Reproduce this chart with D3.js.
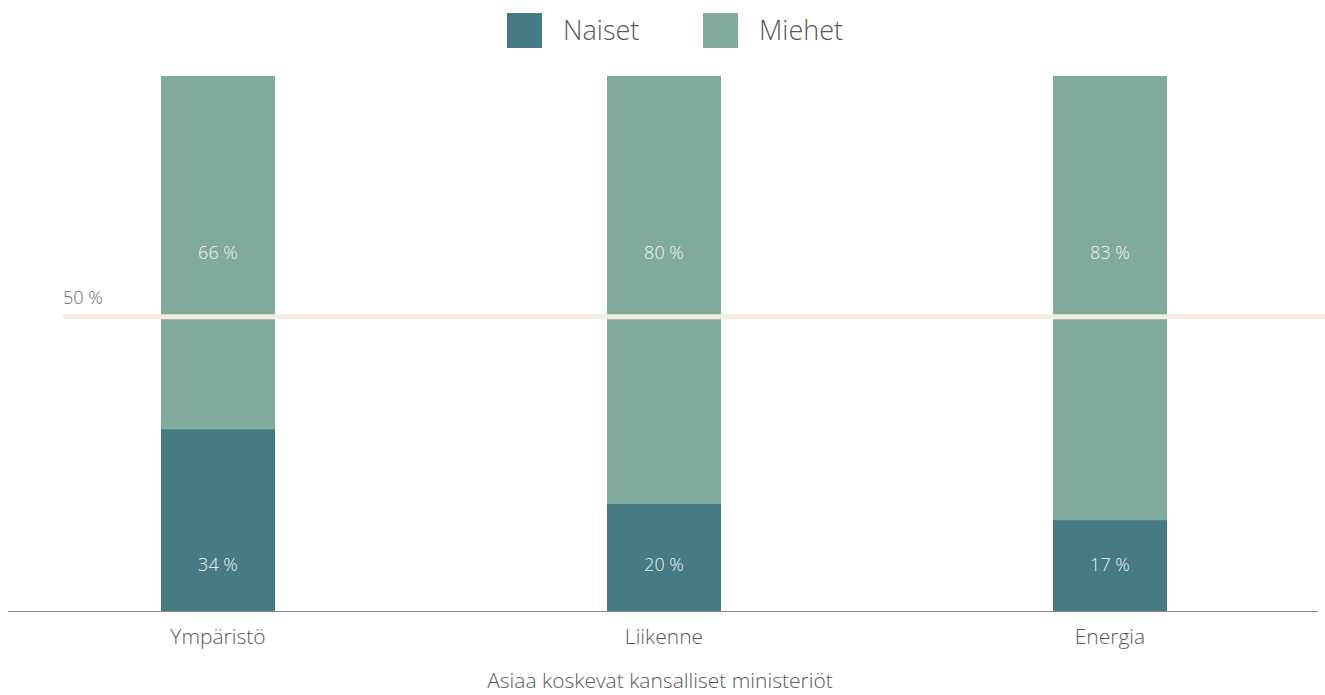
<!DOCTYPE html>
<html>
<head>
<meta charset="utf-8">
<script src="https://cdn.jsdelivr.net/npm/d3@7"></script>
<style>
  body { margin: 0; background: #fff; }
  text { font-family: "Open Sans", sans-serif; font-weight: 300; }
</style>
</head>
<body>
<div id="chart"></div>
<script>
// Data
const categories = ["Ympäristö", "Liikenne", "Energia"];
const seriesNames = ["Naiset", "Miehet"];
const naiset = [34, 20, 17];
const miehet = [66, 80, 83];
const seriesColors = ["#477b84", "#80ab9c"];
const refLineValue = 55;      // line position as drawn in the source
const refLineLabel = "50 %";
const xTitle = "Asiaa koskevat kansalliset ministeriöt";

const W = 1325, H = 695;
const plot = { left: 8, right: 1318, top: 76, bottom: 611 };

const svg = d3.select("#chart").append("svg")
  .attr("width", W).attr("height", H);

const x = d3.scaleBand()
  .domain(categories)
  .range([27.2, 1300.8])
  .paddingInner(0.7444)
  .paddingOuter(0.3);

const y = d3.scaleLinear()
  .domain([0, 100])
  .range([plot.bottom, plot.top]);

const rows = categories.map((c, i) => ({ cat: c, Naiset: naiset[i], Miehet: miehet[i] }));
const stacked = d3.stack().keys(seriesNames)(rows);

// Bars
svg.selectAll("g.series")
  .data(stacked)
  .enter().append("g")
  .attr("fill", (d, i) => seriesColors[i])
  .selectAll("rect")
  .data(d => d)
  .enter().append("rect")
  .attr("x", d => x(d.data.cat))
  .attr("width", x.bandwidth())
  .attr("y", d => y(d[1]))
  .attr("height", d => y(d[0]) - y(d[1]));

// Value labels (fixed heights, as in source)
const labelY = { Naiset: 8.6, Miehet: 66.9 };
stacked.forEach(s => {
  svg.append("g").selectAll("text")
    .data(s)
    .enter().append("text")
    .attr("x", d => x(d.data.cat) + x.bandwidth() / 2)
    .attr("y", y(labelY[s.key]))
    .attr("dy", "0.35em")
    .attr("text-anchor", "middle")
    .style("font-size", "18px")
    .style("fill", "#eef4f2")
    .text(d => d.data[s.key] + " %");
});

// Reference line
svg.append("line")
  .attr("x1", 63).attr("x2", W)
  .attr("y1", y(refLineValue)).attr("y2", y(refLineValue))
  .attr("stroke", "#f2ede2")
  .attr("stroke-width", 5);

svg.append("text")
  .attr("x", 63)
  .attr("y", y(refLineValue) - 19)
  .attr("dy", "0.35em")
  .style("font-size", "18px")
  .style("fill", "#6a6a6a")
  .text(refLineLabel);

// X axis
const xAxis = svg.append("g")
  .attr("transform", `translate(0,${plot.bottom})`)
  .call(d3.axisBottom(x).tickSize(0).tickPadding(18));
xAxis.select(".domain")
  .attr("d", `M${plot.left},0.5H${plot.right}`)
  .attr("stroke", "#8c8c8c");
xAxis.selectAll("text")
  .style("font-family", "'Open Sans', sans-serif")
  .style("font-weight", 300)
  .style("font-size", "21px")
  .style("fill", "#595959");

svg.append("text")
  .attr("x", 660)
  .attr("y", 681)
  .attr("dy", "0.35em")
  .attr("text-anchor", "middle")
  .style("font-size", "21px")
  .style("fill", "#595959")
  .text(xTitle);

// Legend
const legend = svg.append("g");
const legendX = [507, 703];
seriesNames.forEach((name, i) => {
  legend.append("rect")
    .attr("x", legendX[i]).attr("y", 13)
    .attr("width", 35).attr("height", 35)
    .attr("fill", seriesColors[i]);
  legend.append("text")
    .attr("x", legendX[i] + 56)
    .attr("y", 31)
    .attr("dy", "0.35em")
    .style("font-size", "27px")
    .style("fill", "#595959")
    .text(name);
});
</script>
</body>
</html>
